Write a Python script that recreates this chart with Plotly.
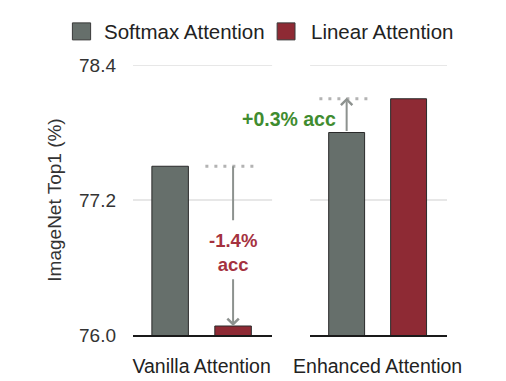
import plotly.graph_objects as go

groups = ["Vanilla Attention", "Enhanced Attention"]
series = ["Softmax Attention", "Linear Attention"]
softmax_vals = [77.50, 77.80]
linear_vals = [76.08, 78.10]
delta_labels = ["-1.4%<br>acc", "+0.3% acc"]
delta_colors = ["#a5323f", "#3f8c2f"]
y_ticks = [76.0, 77.2, 78.4]
colors = ["#666f6b", "#8e2a34"]

FONT = "Liberation Sans, Arial, Helvetica, sans-serif"
xrefs = ["x", "x2"]
fig = go.Figure()

for gi, g in enumerate(groups):
    vals = [softmax_vals[gi], linear_vals[gi]]
    for si, s in enumerate(series):
        fig.add_trace(go.Bar(
            x=[si], y=[vals[si]], name=s, width=0.58,
            marker=dict(color=colors[si], line=dict(color="#2a2a2a", width=1)),
            xaxis=xrefs[gi], yaxis="y", showlegend=False,
        ))

shapes = []
for xr in ["x domain", "x2 domain"]:
    for t in y_ticks[1:]:
        shapes.append(dict(type="line", xref=xr, yref="y", x0=0, x1=1, y0=t, y1=t,
                           line=dict(color="#cfcfcf", width=1), layer="below"))

annotations = []
ARROW_C = "#8d928f"
# Vanilla: dotted line at softmax level over the linear bar, arrow down (broken around text)
shapes.append(dict(type="line", xref="x", yref="y", x0=1 - 0.44, x1=1 + 0.39,
                   y0=softmax_vals[0], y1=softmax_vals[0],
                   line=dict(color="#b3b3b3", width=3, dash="3px,6px")))
shapes.append(dict(type="line", xref="x", yref="y", x0=1, x1=1,
                   y0=softmax_vals[0], y1=77.02, line=dict(color=ARROW_C, width=2)))
annotations.append(dict(xref="x", yref="y", axref="x", ayref="y",
                        x=1, y=linear_vals[0], ax=1, ay=76.51,
                        text="", showarrow=True, arrowhead=4, arrowsize=1.1,
                        arrowwidth=2, arrowcolor=ARROW_C, standoff=0, startstandoff=0))
annotations.append(dict(xref="x", yref="y", x=1, y=76.73, text=delta_labels[0],
                        showarrow=False, yanchor="middle",
                        font=dict(family=FONT, size=18.5, color=delta_colors[0], weight="bold")))
# Enhanced: dotted line at linear level over the softmax bar, arrow up
shapes.append(dict(type="line", xref="x2", yref="y", x0=-0.44, x1=0.38,
                   y0=linear_vals[1], y1=linear_vals[1],
                   line=dict(color="#b3b3b3", width=3, dash="3px,6px")))
annotations.append(dict(xref="x2", yref="y", axref="x2", ayref="y",
                        x=0, y=linear_vals[1] + 0.01, ax=0, ay=softmax_vals[1],
                        text="", showarrow=True, arrowhead=4, arrowsize=1.1,
                        arrowwidth=2, arrowcolor=ARROW_C, standoff=0, startstandoff=0))
annotations.append(dict(xref="x2", yref="y", x=-0.14, y=77.92, text=delta_labels[1],
                        showarrow=False, xanchor="right",
                        font=dict(family=FONT, size=19.5, color=delta_colors[1], weight="bold")))

# legend drawn manually (paper coords)
leg_boxes = [(-0.193, -0.135), (0.459, 0.516)]
leg_text_x = [-0.099, 0.560]
for i, s in enumerate(series):
    shapes.append(dict(type="rect", xref="paper", yref="paper",
                       x0=leg_boxes[i][0], x1=leg_boxes[i][1], y0=1.093, y1=1.156,
                       fillcolor=colors[i], line=dict(color="#3a3a3a", width=1)))
    annotations.append(dict(xref="paper", yref="paper", x=leg_text_x[i], y=1.124,
                            xanchor="left", yanchor="middle", text=s, showarrow=False,
                            font=dict(family=FONT, size=20.5, color="#222222")))

axis_common = dict(range=[-0.59, 1.62], showgrid=False, zeroline=False, showline=True,
                   linecolor="#1a1a1a", linewidth=1.5, ticks="", fixedrange=True,
                   automargin=False,
                   tickfont=dict(family=FONT, size=19.5, color="#222222"),
                   ticklabelstandoff=13)

fig.update_layout(
    width=506, height=381,
    margin=dict(l=133, r=59, t=65, b=46),
    paper_bgcolor="white", plot_bgcolor="white",
    barmode="overlay",
    font=dict(family=FONT, color="#222222"),
    xaxis=dict(domain=[0, 0.443], anchor="y", tickvals=[0.5], ticktext=[groups[0]], **axis_common),
    xaxis2=dict(domain=[0.564, 1], anchor="y", tickvals=[0.5], ticktext=[groups[1]], **axis_common),
    yaxis=dict(range=[y_ticks[0], y_ticks[-1]], tickvals=y_ticks,
               ticktext=[f"{t:.1f}" for t in y_ticks],
               showgrid=False, zeroline=False, showline=False, ticks="",
               ticklabelstandoff=16, fixedrange=True, automargin=False,
               tickfont=dict(family=FONT, size=19, color="#333333"),
               title=dict(text="ImageNet Top1 (%)", standoff=12,
                          font=dict(family=FONT, size=19, color="#333333"))),
    shapes=shapes, annotations=annotations, showlegend=False,
)

fig.write_html("out.html", config={"displayModeBar": False},
               post_script="document.body.style.margin='0px';")
